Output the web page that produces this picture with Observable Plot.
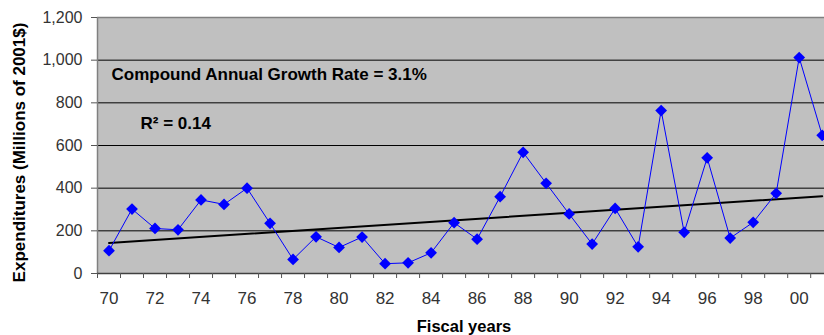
<!DOCTYPE html>
<html><head><meta charset="utf-8">
<script src="https://cdn.jsdelivr.net/npm/d3@7"></script>
<script src="https://cdn.jsdelivr.net/npm/@observablehq/plot@0.6"></script>
<style>html,body{margin:0;padding:0;background:#fff;overflow:hidden}</style>
</head><body><div id="chart"></div>
<script>
const years = ["70","71","72","73","74","75","76","77","78","79","80","81","82","83","84","85","86","87","88","89","90","91","92","93","94","95","96","97","98","99","00","01"];
const expenditures = [107,302,211,205,345,324,400,235,66,172,122,171,46,50,97,238,161,360,568,423,279,138,305,125,764,193,542,166,240,376,1012,648];
const tickLabels = ["70","72","74","76","78","80","82","84","86","88","90","92","94","96","98","00"];
const yTicks = [0,200,400,600,800,1000,1200];
const gridValues = [200,400,600,800,1000];
const trendYears = ["70","01"];
const trendValues = [143,362];
const annotations = ["Compound Annual Growth Rate = 3.1%"];

const idx = y => years.indexOf(y);
const data = years.map((y,i) => ({i, y, v: expenditures[i]}));
const trend = trendYears.map((y,k) => ({i: idx(y), v: trendValues[k]}));
const boundaries = d3.range(years.length + 1).map(i => i - 0.5);
const labelData = tickLabels.map(t => ({i: idx(t), t}));

const font = "Liberation Sans, Arial, sans-serif";

const chart = Plot.plot({
  width: 824,
  height: 335,
  marginLeft: 97,
  marginRight: 0,
  marginTop: 17,
  marginBottom: 62,
  style: {fontFamily: font, background: "#fff", overflow: "hidden"},
  x: {type: "linear", domain: [-0.5, 31.1], axis: null},
  y: {domain: [0, 1200], axis: null},
  marks: [
    Plot.frame({fill: "#c0c0c0", stroke: null}),
    Plot.ruleY(gridValues, {stroke: "#000", strokeWidth: 1}),
    Plot.ruleY([1200], {stroke: "#808080", strokeWidth: 1.5}),
    Plot.ruleX([-0.5], {stroke: "#808080", strokeWidth: 1.5}),
    Plot.ruleY([0], {stroke: "#404040", strokeWidth: 1.5}),
    Plot.axisY(yTicks, {label: null, tickSize: 6, tickPadding: 9, tickFormat: d3.format(","), fontSize: 16, fill: "#333", stroke: "#555", strokeWidth: 1}),
    Plot.axisX(boundaries, {label: null, tickSize: 5, tickFormat: () => "", stroke: "#555"}),
    Plot.text(labelData, {x: "i", text: "t", frameAnchor: "bottom", dy: 25, lineAnchor: "middle", fontSize: 17, fill: "#333"}),
    Plot.line(trend, {x: "i", y: "v", stroke: "#000", strokeWidth: 2, clip: true}),
    Plot.line(data, {x: "i", y: "v", stroke: "#0000ff", strokeWidth: 1, clip: true}),
    Plot.dot(data, {x: "i", y: "v", symbol: "diamond2", r: 5.3, fill: "#0000ff", stroke: "none", clip: true}),
    Plot.text(annotations, {frameAnchor: "top-left", dx: 14, dy: 57, lineAnchor: "middle", textAnchor: "start", fontSize: 17, fontWeight: "bold", fill: "#000"}),
    Plot.text(["R\u00b2 = 0.14"], {frameAnchor: "top-left", dx: 43, dy: 106, lineAnchor: "middle", textAnchor: "start", fontSize: 17, fontWeight: "bold", fill: "#000"}),
    Plot.text(["Fiscal years"], {frameAnchor: "bottom", dx: 3, dy: 53, lineAnchor: "middle", fontSize: 16.5, fontWeight: "bold", fill: "#000"}),
    Plot.text(["Expenditures (Millions of 2001$)"], {frameAnchor: "left", dx: -78, dy: 7, rotate: -90, textAnchor: "middle", lineAnchor: "middle", fontSize: 17, fontWeight: "bold", fill: "#000"})
  ]
});
document.getElementById("chart").appendChild(chart);
</script>
</body></html>
